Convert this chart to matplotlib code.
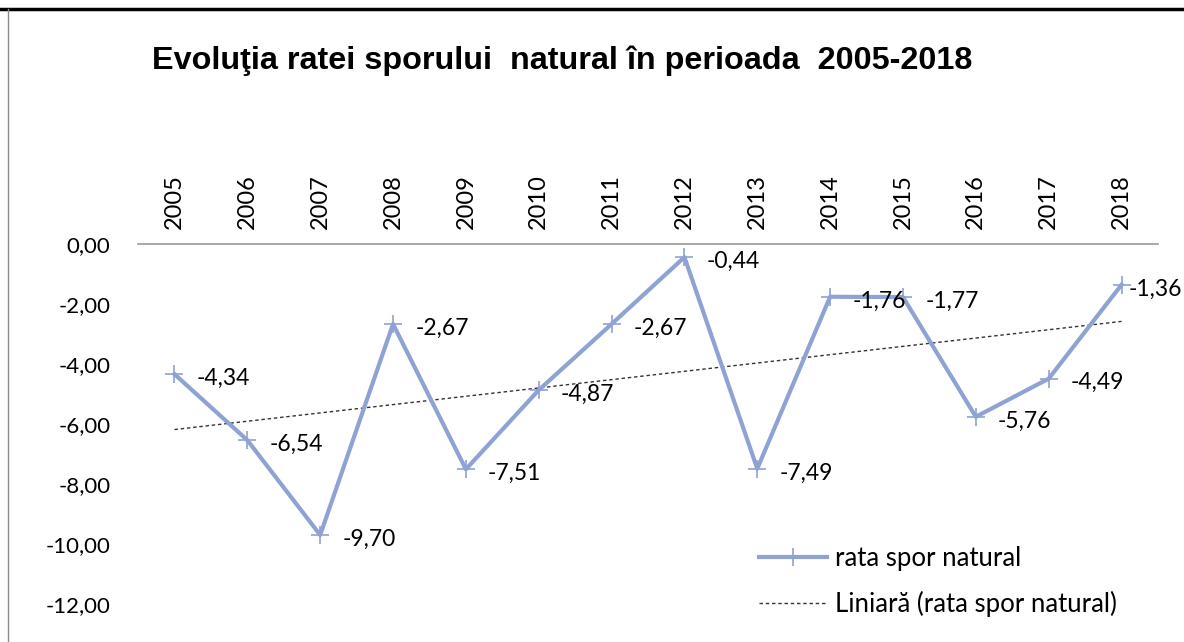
import numpy as np
import matplotlib.pyplot as plt
from matplotlib.lines import Line2D

years = ["2005", "2006", "2007", "2008", "2009", "2010", "2011",
         "2012", "2013", "2014", "2015", "2016", "2017", "2018"]
rate = [-4.34, -6.54, -9.70, -2.67, -7.51, -4.87, -2.67,
        -0.44, -7.49, -1.76, -1.77, -5.76, -4.49, -1.36]
y_ticks = [0, -2, -4, -6, -8, -10, -12]

LINE_COLOR = "#8FA2D4"
FONT = ["Lato", "DejaVu Sans"]


def fmt(v):
    return f"{v:.2f}".replace(".", ",")


def main():
    fig = plt.figure(figsize=(11.84, 6.42), dpi=100)
    ax = fig.add_axes([0.1166, 0.0592, 0.8614, 0.5608])

    x = np.arange(len(years))
    ax.plot(x, rate, color=LINE_COLOR, lw=3, marker="+", markersize=13,
            markeredgewidth=1.2, zorder=3)

    # linear trend
    k, b = np.polyfit(x, rate, 1)
    ax.plot(x, k * x + b, color="#333333", lw=1, ls=(0, (2.5, 2)), zorder=2)

    for i, (xi, v) in enumerate(zip(x, rate)):
        dx = 5 if i == len(rate) - 1 else 16
        ax.annotate(fmt(v), (xi, v), xytext=(dx, -3), textcoords="offset points",
                    ha="left", va="center", fontsize=16.5, family=FONT)

    ax.set_xlim(-0.5, len(years) - 0.5)
    ax.set_ylim(-12, 0)
    ax.set_xticks(x)
    ax.set_xticklabels(years, rotation=90, fontsize=17, family=FONT)
    ax.xaxis.tick_top()
    ax.tick_params(axis="x", length=0, pad=11)
    ax.set_yticks(y_ticks)
    ax.set_yticklabels([fmt(v) for v in y_ticks], fontsize=16, family=FONT)
    ax.tick_params(axis="y", length=0, pad=20)

    for s in ["left", "right", "bottom"]:
        ax.spines[s].set_visible(False)
    ax.spines["top"].set_color("#9a9a9a")
    ax.spines["top"].set_linewidth(1.2)

    handles = [
        Line2D([0], [0], color=LINE_COLOR, lw=3, marker="+", markersize=13,
               markeredgewidth=1.2, label="rata spor natural"),
        Line2D([0], [0], color="#333333", lw=1, ls=(0, (2.5, 2)),
               label="Liniară (rata spor natural)"),
    ]
    ax.legend(handles=handles, loc="lower left", bbox_to_anchor=(0.586, -0.1),
              frameon=False, prop={"family": FONT, "size": 18.5},
              handlelength=2.65, handletextpad=0.3, labelspacing=0.75)

    fig.text(0.475, 0.905, "Evoluţia ratei sporului  natural în perioada  2005-2018",
             ha="center", va="center", fontsize=23.3, fontweight="bold",
             family=["Liberation Sans", "DejaVu Sans"])

    # frame edges of the original screenshot
    fig.add_artist(Line2D([0, 1], [0.986, 0.986], color="black", lw=2.5,
                          transform=fig.transFigure))
    fig.add_artist(Line2D([0.0068, 0.0068], [0, 0.986], color="#8a8a8a", lw=1,
                          transform=fig.transFigure))

    fig.savefig("out.png", dpi=100)
    plt.close(fig)


if __name__ == "__main__":
    main()
